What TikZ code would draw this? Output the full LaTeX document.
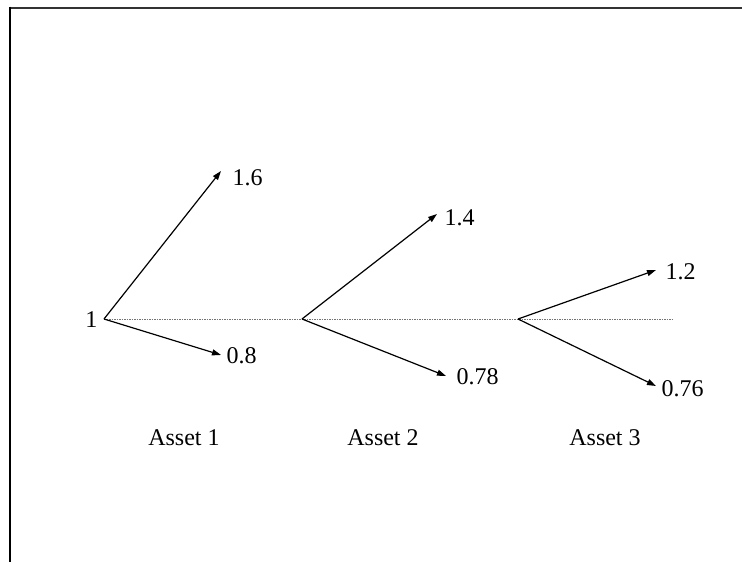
\documentclass[tikz,border=0pt]{standalone}
\usepackage{fontspec}
\setmainfont{Liberation Serif}
\usetikzlibrary{arrows.meta}

\tikzstyle{txt} = [inner sep=0pt, font=\fontsize{24}{28}\selectfont]
\tikzstyle{val} = [txt, anchor=west]
\tikzstyle{move} = [-{Triangle[length=9pt,width=6pt]}, line width=1.2pt]
\tikzstyle{level} = [dash pattern=on 1.5pt off 1pt, line width=0.7pt, black!55]

\begin{document}
\begin{tikzpicture}[x=1pt,y=-1pt]
\useasboundingbox (0,0) rectangle (742,562);

% frame
\draw[line width=2pt, black!80] (9,7.5) -- (742,7.5);
\draw[line width=2pt] (10,6.5) -- (10,562);

% branching points
\coordinate (start) at (104,319);
\coordinate (stepTwo) at (302,319);
\coordinate (stepThree) at (518,319);
\coordinate (levelEnd) at (672,319);

% arrow tips
\coordinate (upOne) at (221,171);
\coordinate (downOne) at (221,355);
\coordinate (upTwo) at (437,214);
\coordinate (downTwo) at (446,376);
\coordinate (upThree) at (656,270);
\coordinate (downThree) at (656,386);

\node[txt, anchor=east] (root) at (97.5,320) {1};

\node[val] (highOne) at (232.5,177.5) {1.6};
\node[val] (lowOne) at (226.5,356) {0.8};
\node[val] (highTwo) at (444.5,217.5) {1.4};
\node[val] (lowTwo) at (456.5,377) {0.78};
\node[val] (highThree) at (665.5,272) {1.2};
\node[val] (lowThree) at (661.5,389) {0.76};

\node[txt] (assetOne) at (184,438) {Asset 1};
\node[txt] (assetTwo) at (383,438) {Asset 2};
\node[txt] (assetThree) at (605,438) {Asset 3};

\draw[level] (start) -- (levelEnd);

\draw[move] (start) -- (upOne);
\draw[move] (start) -- (downOne);
\draw[move] (stepTwo) -- (upTwo);
\draw[move] (stepTwo) -- (downTwo);
\draw[move] (stepThree) -- (upThree);
\draw[move] (stepThree) -- (downThree);

\end{tikzpicture}
\end{document}
